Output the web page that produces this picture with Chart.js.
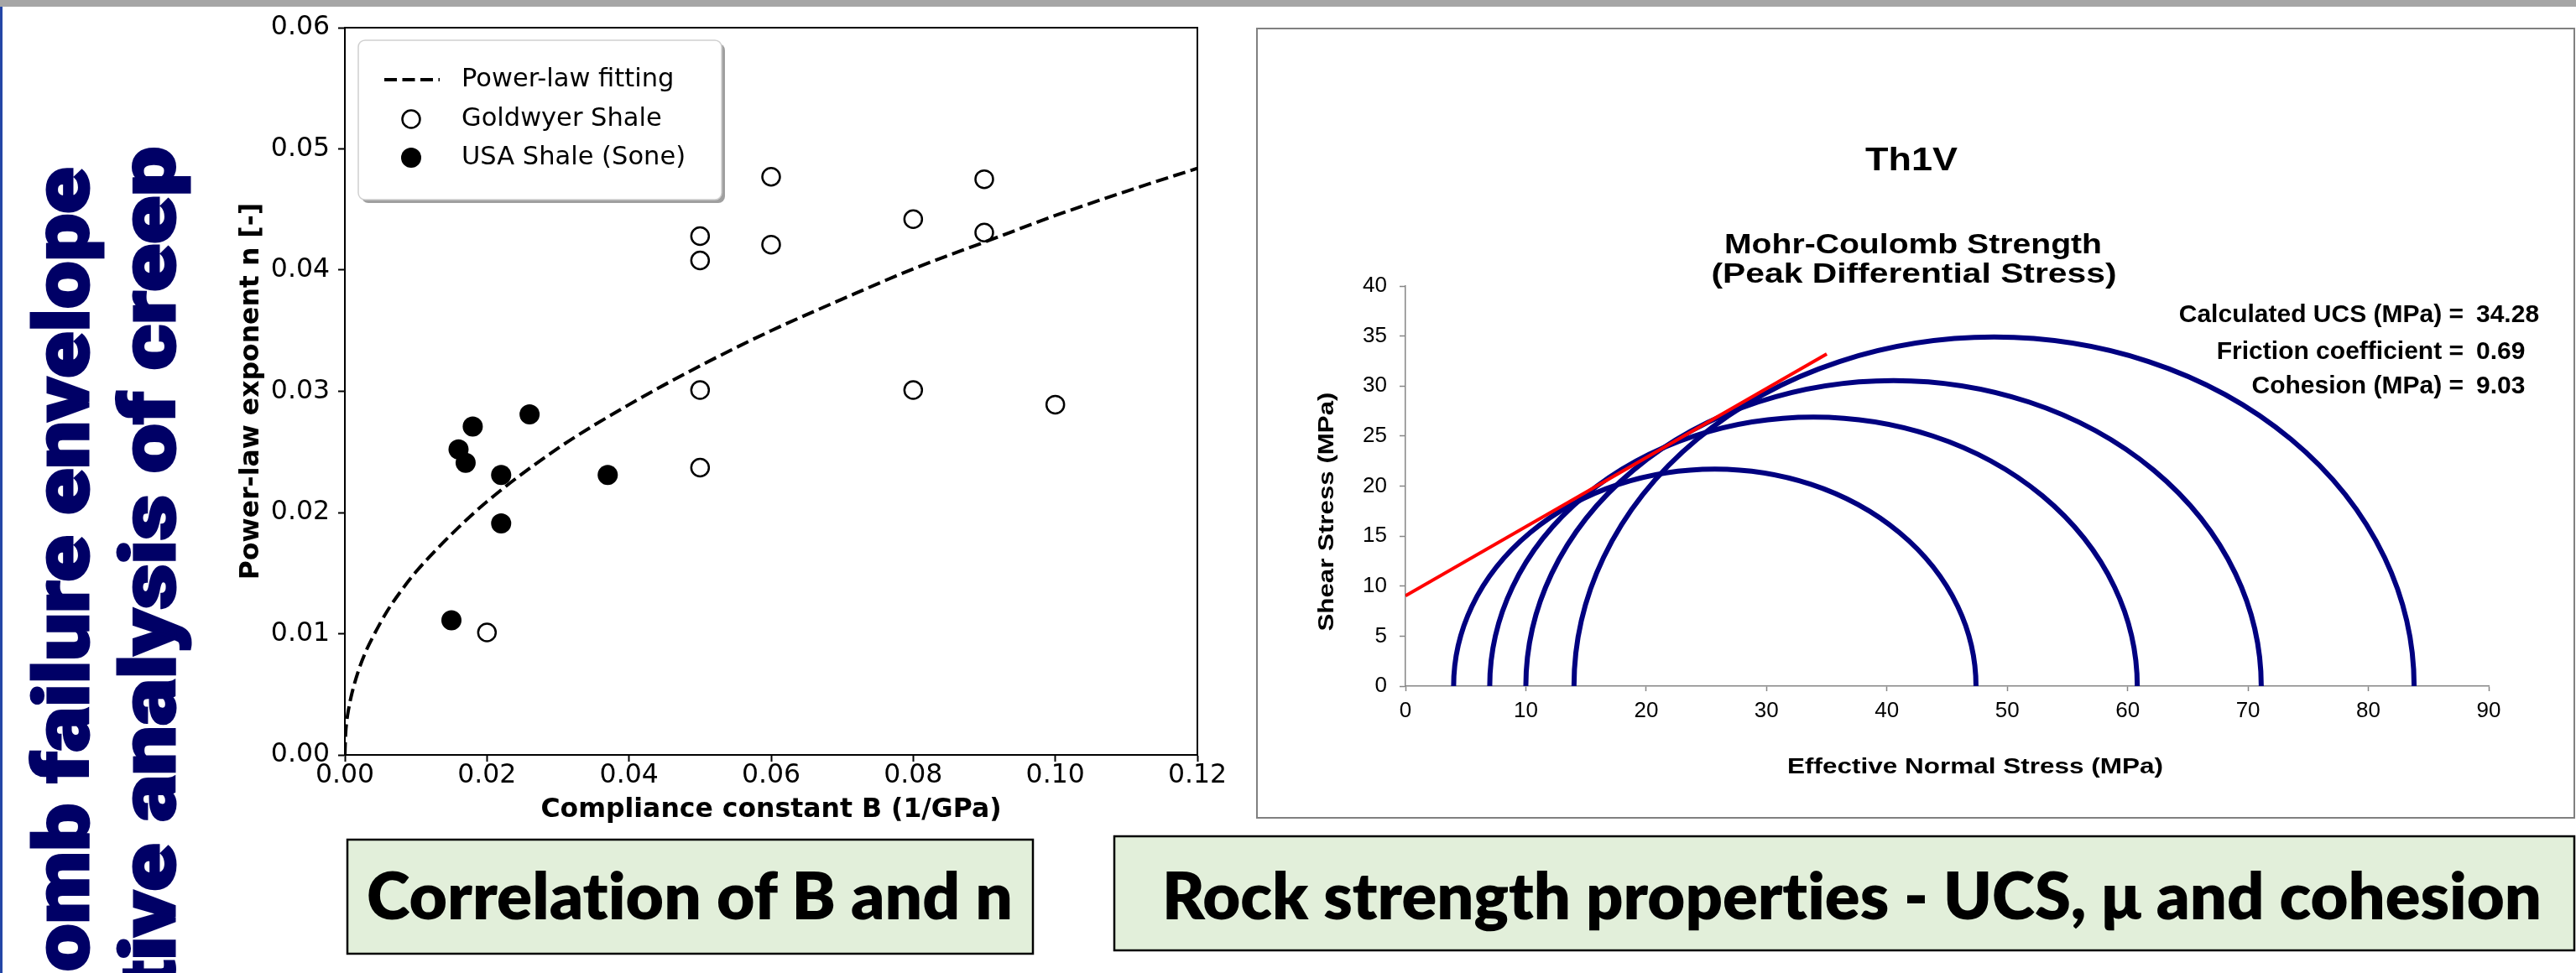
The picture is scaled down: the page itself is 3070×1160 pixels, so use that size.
<!DOCTYPE html>
<html><head><meta charset="utf-8">
<script src="https://cdn.jsdelivr.net/npm/chart.js@4.4.1/dist/chart.umd.min.js"></script>
<style>
html,body{margin:0;padding:0;background:#fff;width:3070px;height:1160px;overflow:hidden;}
#page{position:relative;width:3070px;height:1160px;overflow:hidden;background:#fff;}
canvas{position:absolute;}
#cL{left:200px;top:0;}
#cR{left:1499px;top:35px;}
#rbox{position:absolute;left:1497px;top:33px;width:1572px;height:943px;border:2px solid #808080;box-sizing:border-box;}
#ov{position:absolute;left:0;top:0;pointer-events:none;}
#ov text{font-variant-ligatures:none;font-feature-settings:"liga" 0, "clig" 0;}
</style></head>
<body><div id="page">
<div id="rbox"></div>
<canvas id="cL" width="1270" height="1000"></canvas>
<canvas id="cR" width="1568" height="938"></canvas>
<svg id="ov" width="3070" height="1160">
  <rect x="0" y="0" width="3070" height="8" fill="#a6a6a6"/>
  <rect x="0" y="8" width="3" height="1152" fill="#2446a6"/>
  <text transform="translate(105,1158) rotate(-90)" textLength="958" lengthAdjust="spacingAndGlyphs"
        font-family="Roboto, Lato, 'DejaVu Sans'" font-weight="900" font-size="91" fill="#000066" stroke="#000066" stroke-width="3">omb failure envelope</text>
  <text transform="translate(208,1181) rotate(-90)" textLength="1006" lengthAdjust="spacingAndGlyphs"
        font-family="Roboto, Lato, 'DejaVu Sans'" font-weight="900" font-size="91" fill="#000066" stroke="#000066" stroke-width="3">tive analysis of creep</text>
  <rect x="414" y="1001" width="817" height="136" fill="#e2efda" stroke="#000" stroke-width="2.5"/>
  <text x="437" y="1096" textLength="770" lengthAdjust="spacingAndGlyphs" font-family="Lato, 'Open Sans', sans-serif" font-weight="800" font-size="77" fill="#000">Correlation of B and n</text>
  <rect x="1328" y="997" width="1740" height="136" fill="#e2efda" stroke="#000" stroke-width="2.5"/>
  <text x="1385" y="1096" textLength="1644" lengthAdjust="spacingAndGlyphs" font-family="Lato, 'Open Sans', sans-serif" font-weight="800" font-size="77" fill="#000">Rock strength properties - UCS, μ and cohesion</text>
</svg>
</div>
<script>
// ---------------- Left chart data (Correlation of B and n) ----------------
const goldwyerB = [0.06, 0.09, 0.08, 0.09, 0.05, 0.05, 0.06, 0.05, 0.08, 0.10, 0.05, 0.02];
const goldwyerN = [0.0477, 0.0475, 0.0442, 0.0431, 0.0428, 0.0408, 0.0421, 0.0301, 0.0301, 0.0289, 0.0237, 0.0101];
const usaB = [0.018, 0.026, 0.016, 0.017, 0.022, 0.037, 0.022, 0.015];
const usaN = [0.0271, 0.0281, 0.0252, 0.0241, 0.0231, 0.0231, 0.0191, 0.0111];
const fitB = [0, 0.0001, 0.00025, 0.0005, 0.001, 0.002, 0.003, 0.004, 0.006, 0.008, 0.01, 0.015, 0.02, 0.03, 0.04, 0.05, 0.06, 0.07, 0.08, 0.09, 0.10, 0.11, 0.12];
const fitN = [0, 0.0017, 0.0027, 0.0037, 0.0051, 0.0071, 0.0086, 0.0098, 0.0119, 0.0136, 0.0151, 0.0182, 0.0209, 0.0253, 0.0289, 0.0321, 0.0350, 0.0376, 0.0401, 0.0423, 0.0445, 0.0465, 0.0484];
const bTicks = [0, 0.02, 0.04, 0.06, 0.08, 0.10, 0.12];
const bTickLabels = ['0.00', '0.02', '0.04', '0.06', '0.08', '0.10', '0.12'];
const nTicks = [0, 0.01, 0.02, 0.03, 0.04, 0.05, 0.06];
const nTickLabels = ['0.00', '0.01', '0.02', '0.03', '0.04', '0.05', '0.06'];
const seriesNames = ['Power-law fitting', 'Goldwyer Shale', 'USA Shale (Sone)'];
const leftXTitle = 'Compliance constant B (1/GPa)';
const leftYTitle = 'Power-law exponent n [-]';

// ---------------- Right chart data (Mohr-Coulomb) ----------------
const sigma3 = [4, 7, 10, 14];
const sigma1 = [47.4, 60.8, 71.1, 83.8];
const envelopeX = [0, 35];
const envelopeY = [9.03, 33.2];
const sTicks = [0, 10, 20, 30, 40, 50, 60, 70, 80, 90];
const sTickLabels = ['0', '10', '20', '30', '40', '50', '60', '70', '80', '90'];
const tTicks = [0, 5, 10, 15, 20, 25, 30, 35, 40];
const tTickLabels = ['0', '5', '10', '15', '20', '25', '30', '35', '40'];
const rightTitle1 = 'Th1V';
const rightTitle2 = 'Mohr-Coulomb Strength';
const rightTitle3 = '(Peak Differential Stress)';
const rightXTitle = 'Effective Normal Stress (MPa)';
const rightYTitle = 'Shear Stress (MPa)';
const statLabels = ['Calculated UCS (MPa) =', 'Friction coefficient =', 'Cohesion (MPa) ='];
const statValues = ['34.28', '0.69', '9.03'];

const toXY = (xs, ys) => xs.map((x, i) => ({x: x, y: ys[i]}));

function roundRect(ctx, x, y, w, h, r) {
  ctx.beginPath();
  ctx.moveTo(x + r, y);
  ctx.arcTo(x + w, y, x + w, y + h, r);
  ctx.arcTo(x + w, y + h, x, y + h, r);
  ctx.arcTo(x, y + h, x, y, r);
  ctx.arcTo(x, y, x + w, y, r);
  ctx.closePath();
}

// ----- left chart plugins -----
const LOX = 200, LOY = 0;
const framePlugin = {
  id: 'frame',
  afterDraw(chart) {
    const a = chart.chartArea, ctx = chart.ctx;
    ctx.save();
    ctx.strokeStyle = '#000';
    ctx.lineWidth = 2;
    ctx.strokeRect(a.left, a.top, a.right - a.left, a.bottom - a.top);
    ctx.restore();
  }
};
const mplLegend = {
  id: 'mplLegend',
  afterDraw(chart) {
    const ctx = chart.ctx;
    const bx = 427 - LOX, by = 48 - LOY, bw = 433, bh = 190;
    ctx.save();
    ctx.fillStyle = '#9f9f9f';
    roundRect(ctx, bx + 4, by + 4, bw, bh, 8); ctx.fill();
    ctx.fillStyle = '#ffffff';
    roundRect(ctx, bx, by, bw, bh, 8); ctx.fill();
    ctx.strokeStyle = '#d0d0d0'; ctx.lineWidth = 1.5; ctx.stroke();
    const ys = [95, 142, 188];
    const ds = chart.data.datasets;
    ctx.font = '30.5px DejaVu Sans';
    ctx.textBaseline = 'middle';
    ctx.fillStyle = '#000';
    ds.forEach((d, i) => {
      const y = ys[i] - LOY;
      if (d.showLine) {
        ctx.beginPath();
        ctx.setLineDash(d.borderDash);
        ctx.lineWidth = d.borderWidth;
        ctx.strokeStyle = d.borderColor;
        ctx.moveTo(458 - LOX, y); ctx.lineTo(524 - LOX, y); ctx.stroke();
        ctx.setLineDash([]);
      } else {
        ctx.beginPath();
        ctx.arc(490 - LOX, y, d.pointRadius, 0, Math.PI * 2);
        ctx.fillStyle = d.backgroundColor; ctx.fill();
        if (d.borderWidth > 0) { ctx.lineWidth = d.borderWidth; ctx.strokeStyle = d.borderColor; ctx.stroke(); }
      }
      ctx.fillStyle = '#000';
      ctx.fillText(d.label, 550 - LOX, y);
    });
    ctx.restore();
  }
};

const tickFontL = {family: 'DejaVu Sans', size: 31.5, lineHeight: 1};
new Chart(document.getElementById('cL'), {
  type: 'scatter',
  data: {
    datasets: [
      {label: seriesNames[0], data: toXY(fitB, fitN), showLine: true, borderColor: '#000', borderWidth: 4,
       borderDash: [15, 6.5], pointRadius: 0, cubicInterpolationMode: 'monotone', fill: false, order: 3},
      {label: seriesNames[1], data: toXY(goldwyerB, goldwyerN), showLine: false, pointRadius: 10.5,
       backgroundColor: 'rgba(255,255,255,0)', borderColor: '#000', borderWidth: 2.5, order: 2},
      {label: seriesNames[2], data: toXY(usaB, usaN), showLine: false, pointRadius: 12,
       backgroundColor: '#000', borderColor: '#000', borderWidth: 0, order: 1}
    ]
  },
  options: {
    responsive: false, animation: false, events: [], devicePixelRatio: 1,
    layout: {padding: {left: 0, top: 33, right: 43, bottom: 0}},
    plugins: {legend: {display: false}, tooltip: {enabled: false}},
    scales: {
      x: {
        type: 'linear', min: 0, max: 0.12,
        afterBuildTicks: s => { s.ticks = bTicks.map(v => ({value: v})); },
        afterFit: s => { s.height = 100; },
        ticks: {callback: (v, i) => bTickLabels[i], font: tickFontL, color: '#000', padding: 1, maxRotation: 0, autoSkip: false},
        grid: {drawOnChartArea: false, drawTicks: true, tickLength: 8, tickColor: '#000', tickWidth: 2},
        border: {display: true, color: '#000', width: 2},
        title: {display: true, text: leftXTitle, color: '#000', font: {family: 'DejaVu Sans', size: 31.5, weight: 'bold'}, padding: {top: 0, bottom: 15}}
      },
      y: {
        type: 'linear', min: 0, max: 0.06,
        afterBuildTicks: s => { s.ticks = nTicks.map(v => ({value: v})); },
        afterFit: s => { s.width = 211; },
        ticks: {callback: (v, i) => nTickLabels[i], font: tickFontL, color: '#000', padding: 10, autoSkip: false},
        grid: {drawOnChartArea: false, drawTicks: true, tickLength: 8, tickColor: '#000', tickWidth: 2},
        border: {display: true, color: '#000', width: 2},
        title: {display: true, text: leftYTitle, color: '#000', font: {family: 'DejaVu Sans', size: 31.5, weight: 'bold'}, padding: {top: 81, bottom: 0}}
      }
    }
  },
  plugins: [framePlugin, mplLegend]
});

// ----- right chart plugins -----
const ROX = 1499, ROY = 35;
function drawFit(ctx, text, x, y, font, targetW, rot, baseline) {
  ctx.save();
  ctx.font = font;
  const w = ctx.measureText(text).width;
  ctx.translate(x, y);
  if (rot) ctx.rotate(rot);
  ctx.scale(targetW / w, 1);
  ctx.textAlign = 'center';
  ctx.textBaseline = baseline || 'alphabetic';
  ctx.fillStyle = '#000';
  ctx.fillText(text, 0, 0);
  ctx.restore();
}
const mohrCircles = {
  id: 'mohrCircles',
  beforeDatasetsDraw(chart) {
    const xs = chart.scales.x, ys = chart.scales.y, ctx = chart.ctx;
    ctx.save();
    ctx.strokeStyle = '#000080';
    ctx.lineWidth = 6;
    sigma3.forEach((s3, i) => {
      const s1 = sigma1[i];
      const c = (s3 + s1) / 2, r = (s1 - s3) / 2;
      const cx = xs.getPixelForValue(c), cy = ys.getPixelForValue(0);
      const rx = xs.getPixelForValue(s1) - cx;
      const ry = cy - ys.getPixelForValue(r);
      ctx.beginPath();
      ctx.ellipse(cx, cy, rx, ry, 0, Math.PI, 2 * Math.PI);
      ctx.stroke();
    });
    ctx.restore();
  }
};
const excelText = {
  id: 'excelText',
  afterDraw(chart) {
    const ctx = chart.ctx;
    drawFit(ctx, rightTitle1, 2278 - ROX, 203 - ROY, 'bold 38px Liberation Sans', 110);
    drawFit(ctx, rightTitle2, 2280 - ROX, 302 - ROY, 'bold 33px Liberation Sans', 450);
    drawFit(ctx, rightTitle3, 2281 - ROX, 337 - ROY, 'bold 33px Liberation Sans', 483);
    drawFit(ctx, rightYTitle, 1582 - ROX, 610 - ROY, 'bold 26px Liberation Sans', 285, -Math.PI / 2, 'middle');
    drawFit(ctx, rightXTitle, 2354 - ROX, 915 - ROY, 'bold 26px Liberation Sans', 448, 0, 'middle');
    ctx.save();
    ctx.font = 'bold 30px Liberation Sans';
    ctx.fillStyle = '#000';
    ctx.textBaseline = 'alphabetic';
    const bl = [384, 428, 469];
    statLabels.forEach((t, i) => {
      ctx.textAlign = 'right';
      ctx.fillText(t, 2936 - ROX, bl[i] - ROY);
      ctx.textAlign = 'left';
      ctx.fillText(statValues[i], 2951 - ROX, bl[i] - ROY);
    });
    ctx.restore();
  }
};
const tickFontR = {family: 'Liberation Sans', size: 26, lineHeight: 1};
new Chart(document.getElementById('cR'), {
  type: 'scatter',
  data: {
    datasets: [
      {label: 'Mohr-Coulomb envelope', data: toXY(envelopeX, envelopeY), showLine: true, borderColor: '#ff0000',
       borderWidth: 4, pointRadius: 0, fill: false}
    ]
  },
  options: {
    responsive: false, animation: false, events: [], devicePixelRatio: 1,
    layout: {padding: {left: 0, top: 306, right: 101, bottom: 0}},
    plugins: {legend: {display: false}, tooltip: {enabled: false}},
    scales: {
      x: {
        type: 'linear', min: 0, max: 90,
        afterBuildTicks: s => { s.ticks = sTicks.map(v => ({value: v})); },
        afterFit: s => { s.height = 155; },
        ticks: {callback: (v, i) => sTickLabels[i], font: tickFontR, color: '#000', padding: 11, maxRotation: 0, autoSkip: false},
        grid: {drawOnChartArea: false, drawTicks: true, tickLength: 6, tickColor: '#868686', tickWidth: 1.5},
        border: {display: true, color: '#868686', width: 1.5}
      },
      y: {
        type: 'linear', min: 0, max: 40,
        afterBuildTicks: s => { s.ticks = tTicks.map(v => ({value: v})); },
        afterFit: s => { s.width = 176; },
        ticks: {callback: (v, i) => tTickLabels[i], font: tickFontR, color: '#000', padding: 15, autoSkip: false},
        grid: {drawOnChartArea: false, drawTicks: true, tickLength: 7, tickColor: '#868686', tickWidth: 1.5},
        border: {display: true, color: '#868686', width: 1.5}
      }
    }
  },
  plugins: [mohrCircles, excelText]
});
</script>
</body></html>
